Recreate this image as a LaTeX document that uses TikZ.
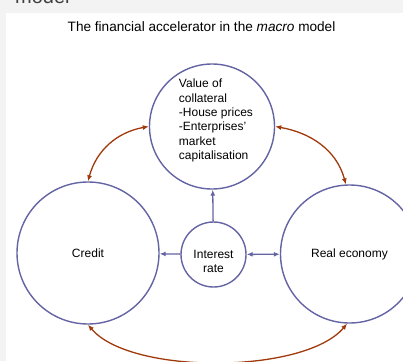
\documentclass[tikz,border=0pt]{standalone}
\usepackage{fontspec}
\setmainfont{Liberation Sans}
\usetikzlibrary{arrows.meta}
\definecolor{ringblue}{RGB}{100,100,164}
\definecolor{loopbrown}{RGB}{160,58,12}
\definecolor{panelgray}{RGB}{243,243,243}
\tikzset{>={Latex[length=6pt, width=5pt]}}
\tikzset{ring/.style = {circle, draw=ringblue, line width=1.4pt, inner sep=0pt, align=center}}
\tikzset{link/.style = {->, draw=ringblue, line width=1.3pt}}
\tikzset{feedback/.style = {<->, draw=loopbrown, line width=1.3pt}}

\begin{document}
\begin{tikzpicture}[x=1pt, y=-1pt, {every node/.style}={font=\fontsize{12}{14.4}\selectfont}, {every label/.style}={font=\fontsize{12}{14.4}\selectfont}]
\useasboundingbox (0, 0) rectangle (403, 361);
\fill [panelgray] (0, 0) rectangle (403, 361);
\fill [white] (6, 13) rectangle (403, 361);
\node [anchor=base west, inner sep=0pt, text=black!75, font=\fontsize{20}{24}\selectfont] (header) at (15, 4) {model};
\node (title) at (201.5, 27) [font=\fontsize{13.6}{16}\selectfont] {The financial accelerator in the \textit{macro} model};

\node [ring, minimum size=125pt, label={[align=left, xshift=4pt, yshift=6pt]center:Value of\\collateral\\-House prices\\-Enterprises'\\market\\capitalisation}] (collateral) at (212, 126.5) {};
\node [ring, minimum size=142pt] (credit) at (88, 253) {Credit};
\node [ring, minimum size=138pt] (realeco) at (349.5, 254) {Real economy};
\node [ring, minimum size=65pt, label={[align=center, yshift=-7pt]center:Interest\\rate}] (interest) at (213.5, 254.5) {};

\draw [link] (interest) -- (credit);
\draw [link, <->] (interest) -- (realeco);
\draw [link] (interest) -- (collateral);

\draw [feedback] (credit.north) to [out=75, in=190] (collateral.west);
\draw [feedback] (collateral.east) to [out=-10, in=105] (realeco.93);
\draw [feedback] (credit.south) to [out=-50, in=-130, looseness=0.65] (realeco.-92);
\end{tikzpicture}
\end{document}
